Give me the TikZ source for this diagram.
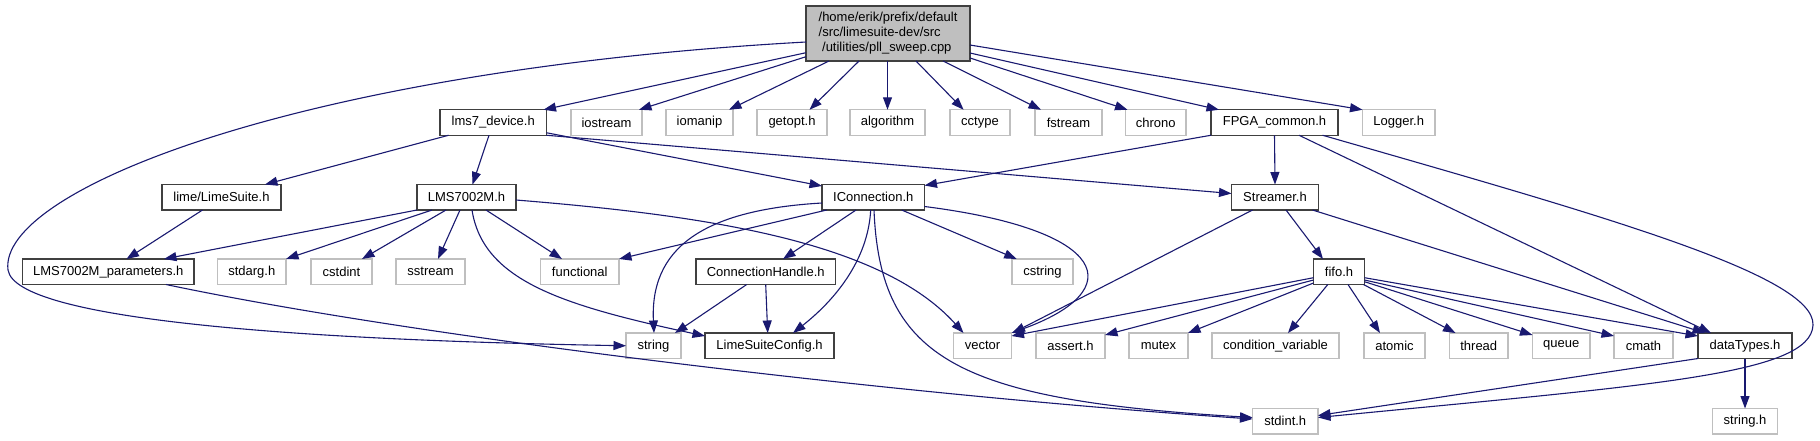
\documentclass[tikz,border=0pt]{standalone}
\usepackage{fontspec}
\setmainfont{Liberation Sans}
\usetikzlibrary{arrows.meta,calc}
\definecolor{edgec}{HTML}{191970}
\definecolor{grayb}{HTML}{BFBFBF}
\definecolor{darkb}{HTML}{404040}
\begin{document}
\begin{tikzpicture}[x=1pt,y=-1pt,
  every node/.style={font=\fontsize{13}{15}\selectfont, inner sep=0pt, outer sep=0pt, minimum height=25.5pt},
  bk/.style={draw=darkb, line width=1.3pt, fill=white},
  gr/.style={draw=grayb, line width=1.2pt, fill=white},
  con/.style={draw=edgec, line width=1.1pt, -{Triangle[length=12.5pt,width=9pt]}}]
\useasboundingbox[fill=white] (0,0) rectangle (1820,440);
% row 1
\node[bk, fill=grayb, minimum width=164pt, minimum height=55pt, align=left, font=\fontsize{13}{15}\selectfont] (main) at (888,33.5) {/home/erik/prefix/default\\/src/limesuite-dev/src\\\hspace*{3.5pt}/utilities/pll\_sweep.cpp};
% row 2
\node[bk, minimum width=106.5pt] (lms7) at (493.25,122.5) {lms7\_device.h};
\node[gr, minimum width=71pt] (iostream) at (606.5,122.5) {iostream};
\node[gr, minimum width=67pt] (iomanip) at (699.5,122.5) {iomanip};
\node[gr, minimum width=70pt] (getopt) at (792,122.5) {getopt.h};
\node[gr, minimum width=75pt] (algorithm) at (887.5,122.5) {algorithm};
\node[gr, minimum width=60pt] (cctype) at (980,122.5) {cctype};
\node[gr, minimum width=67pt] (fstream) at (1068.5,122.5) {fstream};
\node[gr, minimum width=60.5pt] (chrono) at (1155.75,122.5) {chrono};
\node[bk, minimum width=127pt] (FPGA) at (1274.5,122.5) {FPGA\_common.h};
\node[gr, minimum width=72.5pt] (Logger) at (1398.75,122.5) {Logger.h};
% row 3
\node[bk, minimum width=119pt] (LimeSuite) at (221.5,197.25) {lime/LimeSuite.h};
\node[bk, minimum width=99pt] (LMS7002M) at (466.5,197.25) {LMS7002M.h};
\node[bk, minimum width=102.5pt] (IConnection) at (873.25,197.25) {IConnection.h};
\node[bk, minimum width=87pt] (Streamer) at (1275,197.25) {Streamer.h};
% row 4
\node[bk, minimum width=171.5pt] (params) at (108.25,271.75) {LMS7002M\_parameters.h};
\node[gr, minimum width=68.5pt] (stdarg) at (251.75,271.75) {stdarg.h};
\node[gr, minimum width=61pt] (cstdint) at (341.5,271.75) {cstdint};
\node[gr, minimum width=69pt] (sstream) at (430.5,271.75) {sstream};
\node[gr, minimum width=78.5pt] (functional) at (579.75,271.75) {functional};
\node[bk, minimum width=139.5pt] (ConnHandle) at (765.75,271.75) {ConnectionHandle.h};
\node[gr, minimum width=61pt] (cstring) at (1042.5,271.75) {cstring};
\node[bk, minimum width=51pt] (fifo) at (1339,271.75) {fifo.h};
% row 5
\node[gr, minimum width=55pt] (string) at (653.5,345.75) {string};
\node[bk, minimum width=129pt] (LSConfig) at (769.5,345.75) {LimeSuiteConfig.h};
\node[gr, minimum width=58pt] (vector) at (982.5,345.75) {vector};
\node[gr, minimum width=69pt] (assert) at (1070.5,345.75) {assert.h};
\node[gr, minimum width=59pt] (mutex) at (1158.5,345.75) {mutex};
\node[gr, minimum width=127pt] (condvar) at (1275.5,345.75) {condition\_variable};
\node[gr, minimum width=61pt] (atomic) at (1394.5,345.75) {atomic};
\node[gr, minimum width=58.5pt] (thread) at (1478.75,345.75) {thread};
\node[gr, minimum width=57.5pt] (queue) at (1561.25,345.75) {queue};
\node[gr, minimum width=59pt] (cmath) at (1643.5,345.75) {cmath};
\node[bk, minimum width=94pt] (dataTypes) at (1745,345.75) {dataTypes.h};
% row 6
\node[gr, minimum width=65.5pt] (stdint) at (1285.25,421.25) {stdint.h};
\node[gr, minimum width=65pt] (stringh) at (1745,421.25) {string.h};

% edges from main
\draw[con] ($(main.north west)+(0,46.7)$) -- ($(lms7.north east)+(-3,0)$);
\draw[con] ($(main.north west)+(0,50.7)$) -- ($(iostream.north east)+(-3,0)$);
\draw[con] ($(main.south west)+(23,0)$) -- ($(iomanip.north east)+(-4,0)$);
\draw[con] ($(main.south west)+(53,0)$) -- ($(getopt.north west)+(52.5,0)$);
\draw[con] ($(main.south west)+(81.5,0)$) -- (algorithm.north);
\draw[con] ($(main.south west)+(110,0)$) -- ($(cctype.north west)+(13.6,0)$);
\draw[con] ($(main.south west)+(137,0)$) -- ($(fstream.north west)+(6,0)$);
\draw[con] ($(main.north east)+(0,52)$) -- ($(chrono.north west)+(2,0)$);
\draw[con] ($(main.north east)+(0,47)$) -- ($(FPGA.north west)+(8,0)$);
\draw[con] ($(main.north east)+(0,39)$) -- (Logger.north west);
\draw[con] ($(main.north west)+(0,36)$) .. controls (300,70) and (-2,190) .. (8,270) .. controls (16,320) and (300,340) .. (string.west);
% lms7_device.h
\draw[con] ($(lms7.south west)+(8.6,0)$) -- ($(LimeSuite.north east)+(-16,0)$);
\draw[con] ($(lms7.south west)+(49,0)$) -- ($(LMS7002M.north west)+(55.5,0)$);
\draw[con] ($(lms7.north east)+(0,23)$) -- ($(IConnection.north west)+(0,1.5)$);
\draw[con] (lms7.south east) -- ($(Streamer.north west)+(0,9)$);
% lime/LimeSuite.h
\draw[con] ($(LimeSuite.south west)+(40.5,0)$) -- ($(params.north west)+(104,0)$);
% LMS7002M.h
\draw[con] (LMS7002M.south west) -- ($(params.north west)+(141.5,0)$);
\draw[con] ($(LMS7002M.south west)+(15,0)$) -- (stdarg.north east);
\draw[con] ($(LMS7002M.south west)+(29,0)$) -- ($(cstdint.north west)+(51,0)$);
\draw[con] ($(LMS7002M.south west)+(43,0)$) -- ($(sstream.north west)+(42,0)$);
\draw[con] ($(LMS7002M.south west)+(69,0)$) -- ($(functional.north west)+(21.5,0)$);
\draw[con] ($(LMS7002M.south west)+(55,0)$) .. controls (483,280) and (560,305) .. ($(LSConfig.north west)+(0,3)$);
\draw[con] ($(LMS7002M.north east)+(0,15.5)$) .. controls (700,215) and (880,240) .. ($(vector.north west)+(10,0)$);
% LMS7002M_parameters.h
\draw[con] ($(params.south west)+(143.5,0)$) .. controls (420,338) and (900,395) .. ($(stdint.north west)+(0,10.5)$);
% IConnection.h
\draw[con] ($(IConnection.south west)+(4.7,0)$) -- (functional.north east);
\draw[con] ($(IConnection.north west)+(0,18.5)$) .. controls (700,210) and (650,250) .. ($(string.north west)+(28,0)$);
\draw[con] ($(IConnection.south west)+(34,0)$) -- ($(ConnHandle.north west)+(87,0)$);
\draw[con] ($(IConnection.south west)+(48.7,0)$) .. controls (868,260) and (835,300) .. ($(LSConfig.north west)+(88,0)$);
\draw[con] ($(IConnection.south west)+(79.7,0)$) -- ($(cstring.north west)+(4.7,0)$);
\draw[con] ($(IConnection.north east)+(0,22)$) .. controls (1110,230) and (1130,290) .. (vector.north east);
\draw[con] ($(IConnection.south west)+(52,0)$) .. controls (880,360) and (960,400) .. ($(stdint.north west)+(0,9)$);
% ConnectionHandle.h
\draw[con] ($(ConnHandle.south west)+(50.7,0)$) -- ($(string.north east)+(-6,0)$);
\draw[con] ($(ConnHandle.south west)+(69.7,0)$) -- ($(LSConfig.north west)+(62.7,0)$);
% FPGA_common.h
\draw[con] (FPGA.south west) -- ($(IConnection.north east)+(0,1)$);
\draw[con] (FPGA.south) -- (Streamer.north);
\draw[con] ($(FPGA.south west)+(88,0)$) -- ($(dataTypes.north west)+(13,0)$);
\draw[con] ($(FPGA.south west)+(111.6,0)$) .. controls (1600,215) and (1815,275) .. (1813,325) .. controls (1811,375) and (1650,385) .. ($(stdint.north east)+(0,9)$);
% Streamer.h
\draw[con] ($(Streamer.south west)+(21,0)$) -- ($(vector.north east)+(1,0)$);
\draw[con] ($(Streamer.south west)+(54.5,0)$) -- ($(fifo.north west)+(9.5,0)$);
\draw[con] ($(Streamer.south west)+(81,0)$) -- ($(dataTypes.north west)+(7,0)$);
% fifo.h
\draw[con] ($(fifo.north west)+(0,18.7)$) -- ($(vector.north east)+(0,3)$);
\draw[con] ($(fifo.north west)+(0,21)$) -- ($(assert.north east)+(0,2)$);
\draw[con] ($(fifo.north west)+(0,24)$) -- (mutex.north east);
\draw[con] ($(fifo.south west)+(14.3,0)$) -- ($(condvar.north west)+(76,0)$);
\draw[con] ($(fifo.south west)+(34.5,0)$) -- ($(atomic.north west)+(16,0)$);
\draw[con] ($(fifo.south east)+(-1,0)$) -- ($(thread.north west)+(6,0)$);
\draw[con] ($(fifo.north east)+(0,22.7)$) -- ($(queue.north west)+(0,2)$);
\draw[con] ($(fifo.north east)+(0,21)$) -- ($(cmath.north west)+(0,3)$);
\draw[con] ($(fifo.north east)+(0,18.7)$) -- ($(dataTypes.north west)+(0,3)$);
% dataTypes.h
\draw[con] (dataTypes.south west) -- ($(stdint.north east)+(0,7)$);
\draw[con] (dataTypes.south) -- (stringh.north);
\end{tikzpicture}
\end{document}
